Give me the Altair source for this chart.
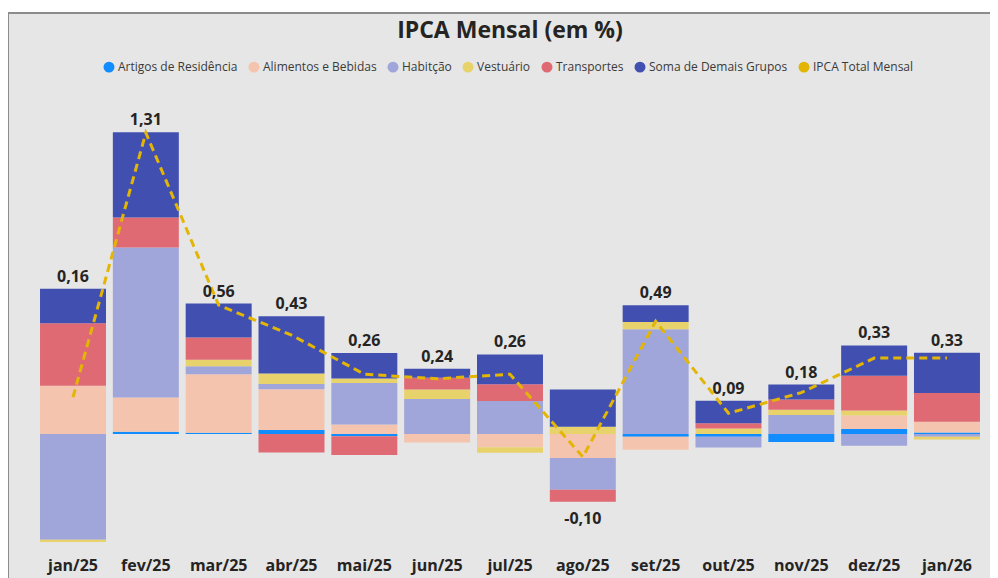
import altair as alt
import pandas as pd

months = ["jan/25", "fev/25", "mar/25", "abr/25", "mai/25", "jun/25", "jul/25",
          "ago/25", "set/25", "out/25", "nov/25", "dez/25", "jan/26"]

series_names = ["Artigos de Residência", "Alimentos e Bebidas", "Habitção",
                "Vestuário", "Transportes", "Soma de Demais Grupos"]
line_name = "IPCA Total Mensal"

artigos = [0.000, 0.010, 0.005, 0.017, -0.010, 0.000, 0.000, 0.000, -0.012, -0.012, -0.035, 0.022, 0.007]
alimentos = [0.210, 0.149, 0.255, 0.178, 0.041, -0.037, -0.058, -0.104, -0.057, 0.000, 0.000, 0.058, 0.046]
habitacao = [-0.460, 0.652, 0.035, 0.022, 0.181, 0.152, 0.143, -0.138, 0.455, -0.047, 0.083, -0.051, -0.012]
vestuario = [-0.010, 0.000, 0.028, 0.046, 0.019, 0.041, -0.023, 0.032, 0.032, 0.024, 0.022, 0.022, -0.012]
transportes = [0.271, 0.130, 0.097, -0.080, -0.081, 0.052, 0.073, -0.053, 0.000, 0.023, 0.045, 0.151, 0.125]
demais = [0.151, 0.371, 0.147, 0.249, 0.111, 0.039, 0.130, 0.161, 0.073, 0.098, 0.065, 0.132, 0.175]
ipca_total = [0.16, 1.31, 0.56, 0.43, 0.26, 0.24, 0.26, -0.10, 0.49, 0.09, 0.18, 0.33, 0.33]

colors = ["#118DFF", "#F4C4AE", "#A0A6D9", "#E8D26B", "#DF6A73", "#4150B0", "#E3B505"]

series_values = [artigos, alimentos, habitacao, vestuario, transportes, demais]

rows = []
for rank, (name, vals) in enumerate(zip(series_names, series_values)):
    for m, v in zip(months, vals):
        rows.append({"month": m, "group": name, "value": v, "rank": rank})
bars_df = pd.DataFrame(rows)

tot_rows = []
for i, m in enumerate(months):
    pos = sum(max(s[i], 0) for s in series_values)
    neg = sum(min(s[i], 0) for s in series_values)
    t = ipca_total[i]
    tot_rows.append({
        "month": m,
        "total": t,
        "label": f"{t:.2f}".replace(".", ","),
        "ypos": pos if t >= 0 else neg,
        "positive": t >= 0,
    })
tot_df = pd.DataFrame(tot_rows)

FONT = "Open Sans"
TXT = "#252423"
W, H = 982, 565

y_scale = alt.Scale(domain=[-0.6261, 1.8304], nice=False, zero=False)
x_enc = alt.X(
    "month:N", sort=months,
    scale=alt.Scale(paddingInner=0.094, paddingOuter=0.2887, align=0.7614),
    axis=alt.Axis(title=None, orient="bottom", offset=-21, labelPadding=0, ticks=False,
                  domain=False, labelFontSize=16, labelFontWeight="bold", labelColor=TXT,
                  labelFont=FONT, labelAngle=0, grid=False),
)
color_scale = alt.Scale(domain=series_names + [line_name], range=colors)

bars = alt.Chart(bars_df).mark_bar().encode(
    x=x_enc,
    y=alt.Y("value:Q", stack="zero", scale=y_scale, axis=None),
    color=alt.Color(
        "group:N", scale=color_scale,
        legend=alt.Legend(title=None, orient="none", legendX=95, legendY=48,
                          direction="horizontal", columns=7, symbolType="circle",
                          symbolSize=90, labelFontSize=12, labelFont=FONT,
                          labelColor="#3a3a3a", columnPadding=8, labelOffset=3),
    ),
    order=alt.Order("rank:Q", sort="ascending"),
)

line = alt.Chart(tot_df).mark_line(strokeDash=[8, 5], strokeWidth=3).encode(
    x=x_enc,
    y=alt.Y("total:Q", scale=y_scale, axis=None),
    color=alt.datum(line_name),
)

lab_pos = alt.Chart(tot_df).transform_filter("datum.positive").mark_text(
    baseline="bottom", dy=-4, fontSize=16, fontWeight="bold", font=FONT, color=TXT
).encode(x=x_enc, y=alt.Y("ypos:Q", scale=y_scale, axis=None), text="label:N")

lab_neg = alt.Chart(tot_df).transform_filter("!datum.positive").mark_text(
    baseline="top", dy=9, fontSize=16, fontWeight="bold", font=FONT, color=TXT
).encode(x=x_enc, y=alt.Y("ypos:Q", scale=y_scale, axis=None), text="label:N")

frame_df = pd.DataFrame({"k": [0]})
left_border = alt.Chart(frame_df).mark_rule(color="#8C8C8C", strokeWidth=2).encode(
    x=alt.value(0), y=alt.value(0), y2=alt.value(H))
top_border = alt.Chart(frame_df).mark_rule(color="#8C8C8C", strokeWidth=2).encode(
    x=alt.value(-1), x2=alt.value(W), y=alt.value(0))

chart = alt.layer(bars, line, lab_pos, lab_neg, left_border, top_border).properties(
    width=W, height=H,
    title=alt.TitleParams("IPCA Mensal (em %)", fontSize=23, font=FONT, fontWeight="bold",
                          color=TXT, anchor="middle", offset=0, dy=31, dx=11),
    autosize=alt.AutoSizeParams(type="none"),
    padding={"left": 0, "top": 5, "right": 0, "bottom": 0},
    background="white",
).configure_view(fill="#E6E6E6", stroke=None)

chart.save("out.html", embed_options={"renderer": "svg", "actions": False})
